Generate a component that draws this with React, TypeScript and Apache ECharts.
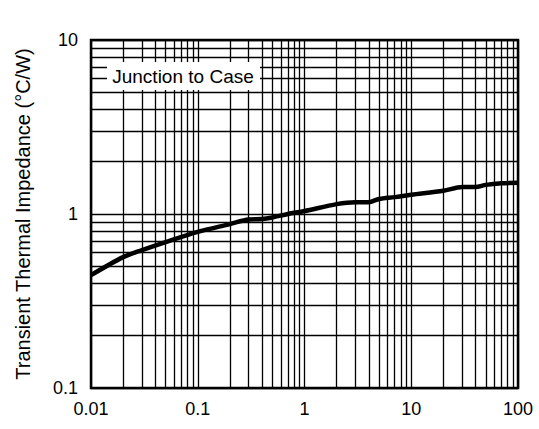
import React, { useEffect, useRef } from "react";
import * as echarts from "echarts";

const timeValues = [0.01, 0.02, 0.03, 0.05, 0.1, 0.2, 0.3, 0.4, 0.5, 0.7, 1, 2, 3, 4, 5, 7, 10, 20, 30, 40, 50, 70, 100];
const impedanceValues = [0.445, 0.565, 0.62, 0.69, 0.79, 0.875, 0.93, 0.935, 0.955, 1.0, 1.04, 1.14, 1.17, 1.17, 1.22, 1.25, 1.29, 1.36, 1.43, 1.43, 1.47, 1.5, 1.51];

const xTickLabels = ["0.01", "0.1", "1", "10", "100"];
const yTickLabels = ["0.1", "1", "10"];
const xDecades = [0.01, 0.1, 1, 10];
const yDecades = [0.1, 1];
const minorMultipliers = [2, 3, 4, 5, 6, 7, 8, 9];

const annotationText = "Junction to Case";
const yAxisTitle = "Transient Thermal Impedance (°C/W)";

const FONT = "'Liberation Sans', Arial, Helvetica, sans-serif";

function fmt(v: number, labels: string[]) {
  const s = labels.find((l) => Math.abs(parseFloat(l) - v) / v < 1e-6);
  return s ?? "";
}

export default function App() {
  const ref = useRef<HTMLDivElement>(null);
  useEffect(() => {
    if (!ref.current) return;
    const chart = echarts.init(ref.current, undefined, { renderer: "svg" });
    const xMinor: any[] = [];
    xDecades.forEach((d) => minorMultipliers.forEach((m) => xMinor.push({ xAxis: +(d * m).toPrecision(6) })));
    const yMinor: any[] = [];
    yDecades.forEach((d) => minorMultipliers.forEach((m) => yMinor.push({ yAxis: +(d * m).toPrecision(6) })));

    chart.setOption({
      animation: false,
      grid: {
        left: 91,
        top: 40,
        width: 427,
        height: 348,
        show: true,
        borderColor: "#000",
        borderWidth: 2.5,
        backgroundColor: "transparent",
        z: 10,
      },
      xAxis: {
        type: "log",
        logBase: 10,
        min: 0.01,
        max: 100,
        axisLine: { show: false },
        axisTick: { show: false },
        splitLine: { show: true, lineStyle: { color: "#000", width: 1.3 } },
        axisLabel: {
          color: "#000",
          fontSize: 18,
          fontFamily: FONT,
          margin: 12,
          formatter: (v: number) => fmt(v, xTickLabels),
        },
      },
      yAxis: {
        type: "log",
        logBase: 10,
        min: 0.1,
        max: 10,
        name: yAxisTitle,
        nameLocation: "middle",
        nameGap: 58,
        nameTextStyle: { color: "#000", fontSize: 20, fontFamily: FONT },
        axisLine: { show: false },
        axisTick: { show: false },
        splitLine: { show: true, lineStyle: { color: "#000", width: 1.3 } },
        axisLabel: {
          color: "#000",
          fontSize: 18,
          fontFamily: FONT,
          margin: 13,
          formatter: (v: number) => fmt(v, yTickLabels),
        },
      },
      series: [
        {
          type: "line",
          data: [],
          z: 1,
          silent: true,
          markLine: {
            silent: true,
            symbol: "none",
            animation: false,
            label: { show: false },
            lineStyle: { color: "#000", width: 1.3, type: "solid" },
            emphasis: { disabled: true },
            data: [...xMinor, ...yMinor],
          },
        },
        {
          type: "line",
          z: 5,
          data: timeValues.map((t, i) => [t, impedanceValues[i]]),
          showSymbol: false,
          symbol: "none",
          smooth: 0.3,
          lineStyle: { color: "#000", width: 4.5 },
        },
      ],
      graphic: [
        {
          type: "rect",
          z: 100,
          zlevel: 0,
          shape: { x: 107, y: 62, width: 153, height: 28 },
          style: { fill: "#fff", stroke: "none" },
        },
        {
          type: "text",
          z: 101,
          x: 183,
          y: 76,
          style: {
            text: annotationText,
            fill: "#000",
            fontSize: 19,
            fontFamily: FONT,
            align: "center",
            verticalAlign: "middle",
          },
        },
      ],
    });
    return () => chart.dispose();
  }, []);
  return (
    <div
      ref={ref}
      style={{ position: "fixed", left: 0, top: 0, width: 539, height: 429, background: "#fff" }}
    />
  );
}
